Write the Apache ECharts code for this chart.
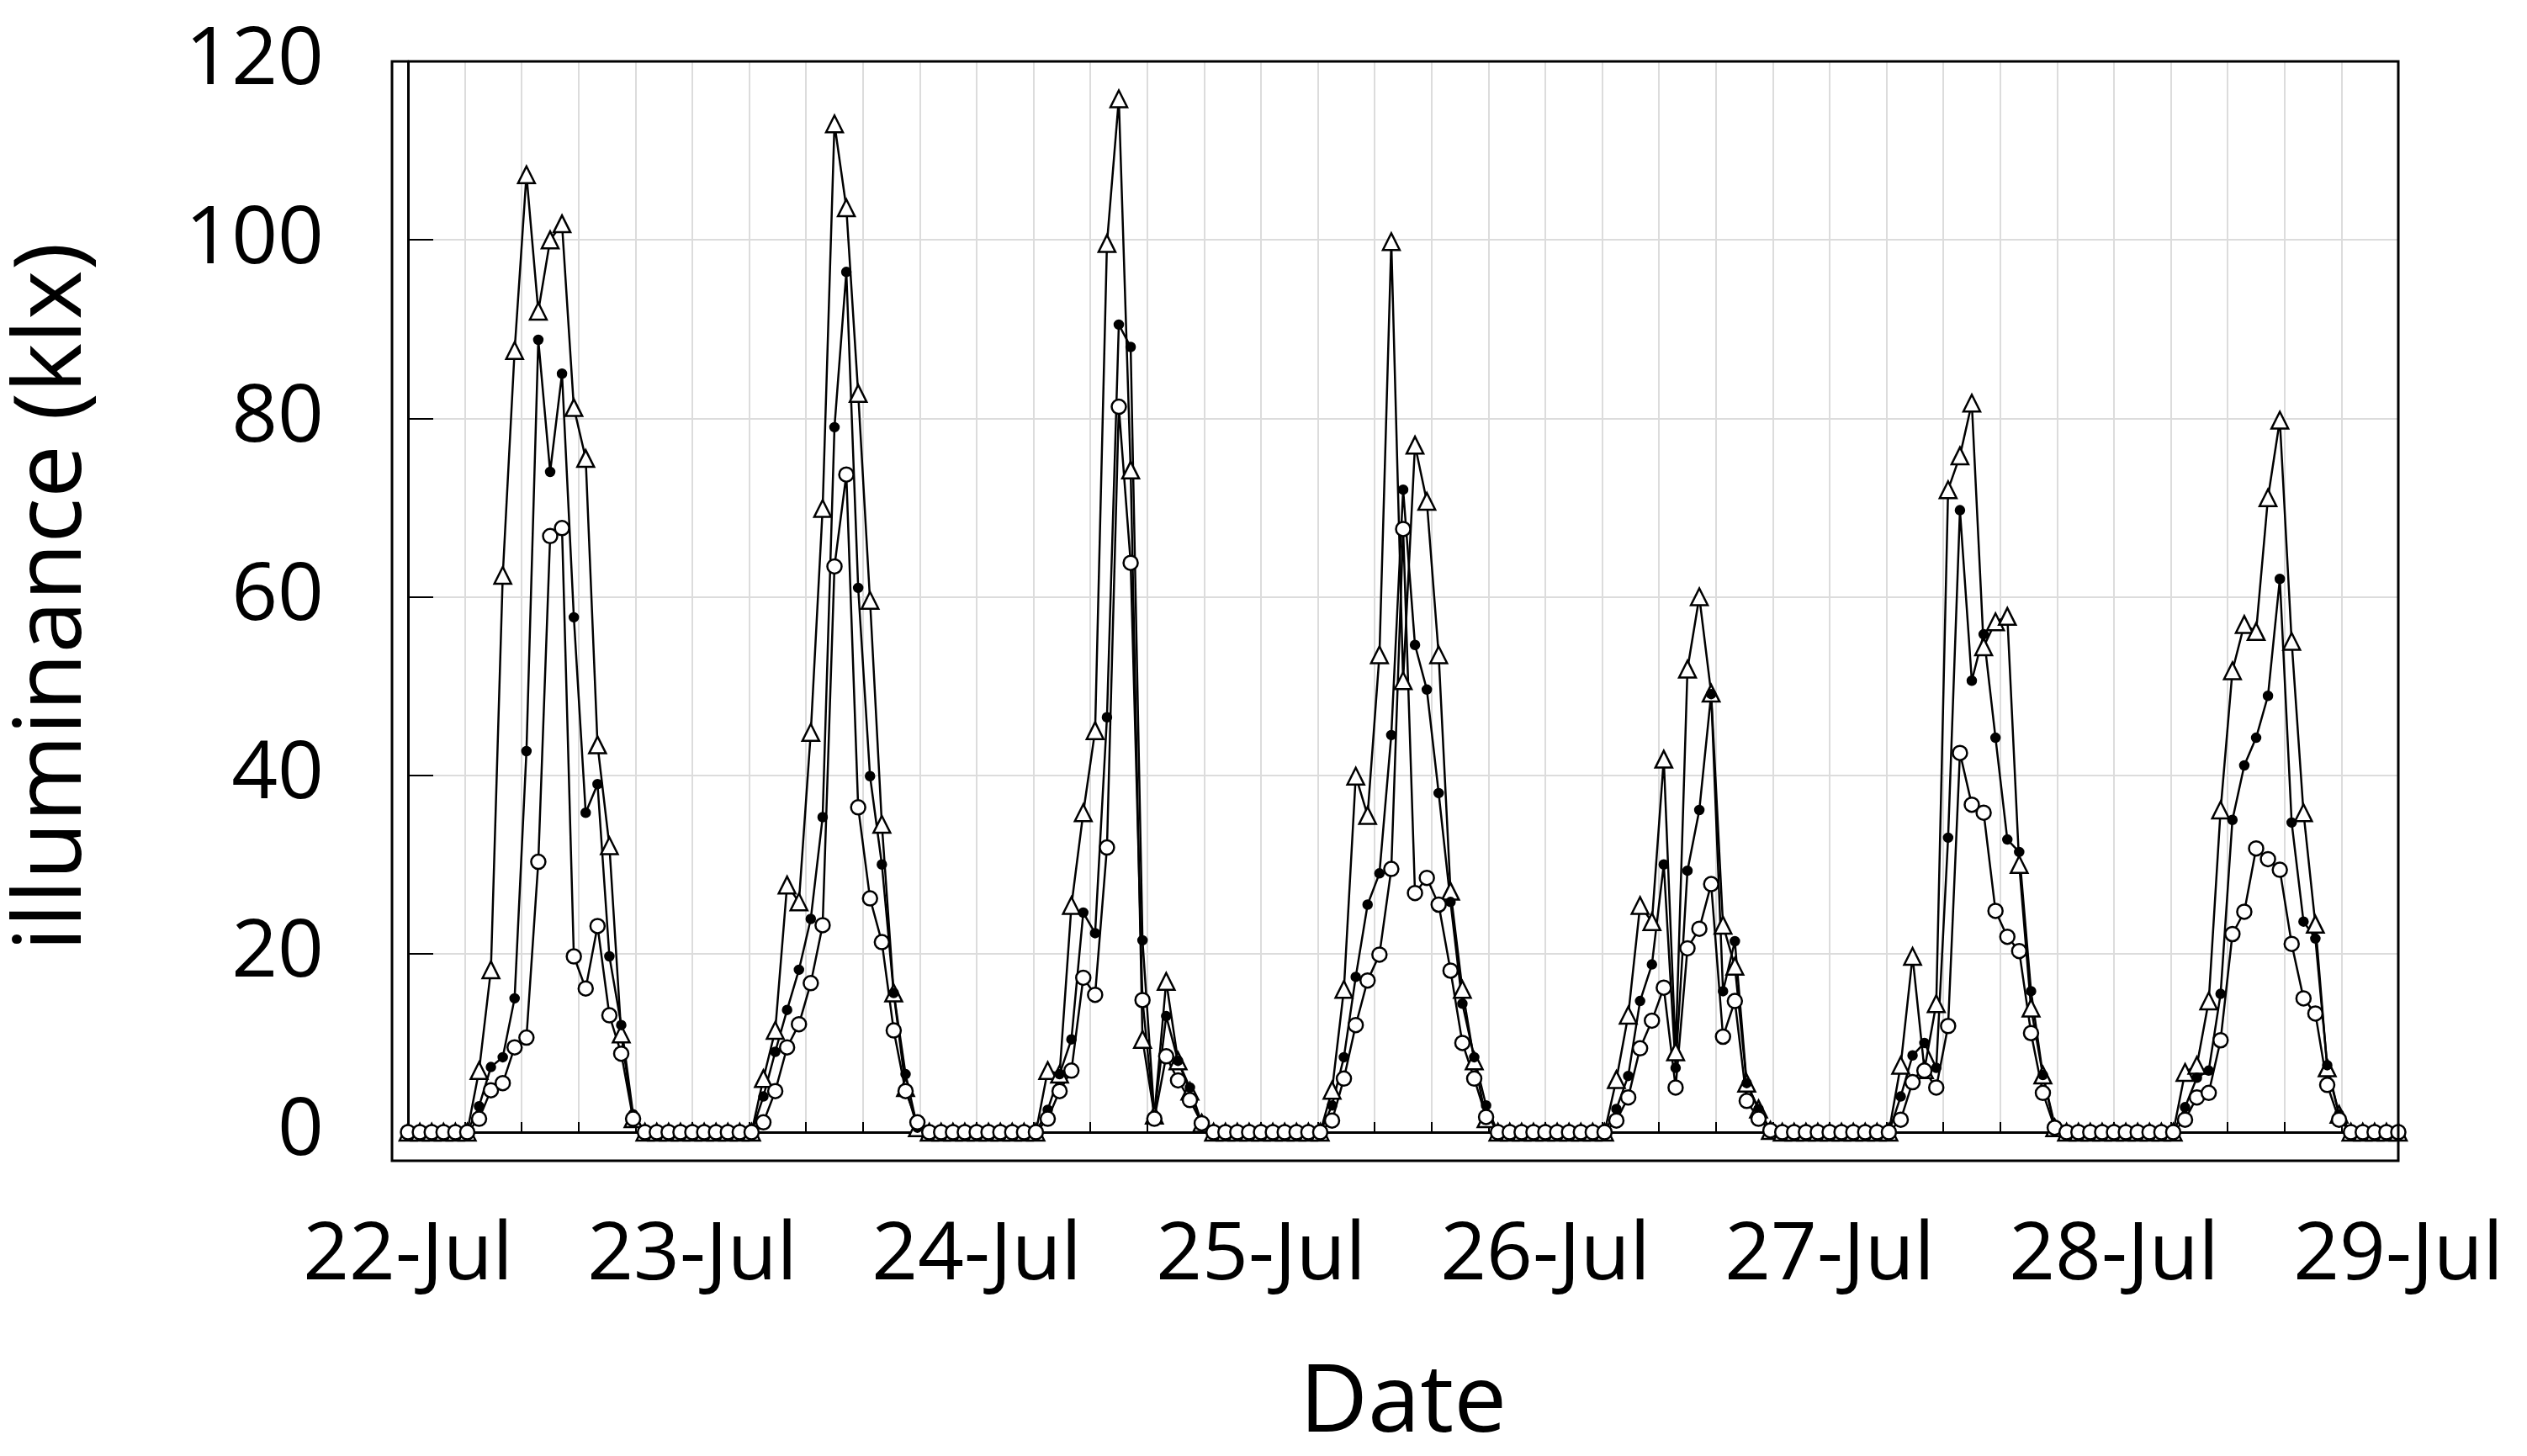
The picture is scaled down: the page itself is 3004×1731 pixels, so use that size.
<!DOCTYPE html>
<html><head><meta charset="utf-8">
<script src="https://cdn.jsdelivr.net/npm/echarts@6/dist/echarts.min.js"></script>
<style>html,body{margin:0;padding:0;background:#fff}#c{width:3004px;height:1731px}</style>
</head><body><div id="c"></div>
<script>
// Daylight-hour values (hours 6..19) for each day; other hours are 0
const dayLabels = ['22-Jul','23-Jul','24-Jul','25-Jul','26-Jul','27-Jul','28-Jul','29-Jul'];
const triDays = [
 [6.9,18.2,62.4,87.6,107.3,92,100,101.8,81.2,75.5,43.4,32.1,11,1.5],
 [6,11.4,27.7,25.8,44.8,69.9,113,103.6,82.8,59.6,34.5,15.6,5,0.5],
 [6.9,6.5,25.4,35.8,45,99.6,115.8,74.2,10.4,1.9,16.9,8,4.6,1],
 [4.7,16,39.9,35.5,53.5,99.8,50.6,77,70.7,53.5,27,16,8,1.5],
 [5.9,13.1,25.4,23.6,41.8,9,51.9,60,49.2,23.2,18.6,5.5,2.6,0.2],
 [7.5,19.7,7,14.4,72,75.8,81.7,54.4,57.2,57.8,30,13.9,6.4,0.5],
 [6.7,7.5,14.7,36.1,51.7,56.9,56.1,71.1,79.8,55,35.8,23.3,7.2,2]
];
const dotDays = [
 [2.9,7.3,8.4,15,42.7,88.8,74,85,57.7,35.8,39,19.7,12,2],
 [4,9,13.7,18.2,23.9,35.3,79,96.4,61,39.9,30,15.6,6.5,0.5],
 [2.5,6.5,10.4,24.6,22.3,46.5,90.5,88,21.5,1.9,13,8,5,1],
 [3,8.4,17.4,25.5,29,44.5,72,54.6,49.6,38,25.8,14.4,8.4,3],
 [2.6,6.3,14.7,18.8,30,7.2,29.3,36.1,49.1,15.8,21.4,5.5,2.6,0.2],
 [4,8.6,10,7.2,33,69.7,50.6,55.8,44.2,32.8,31.4,15.8,6.4,0.8],
 [2.8,6.1,6.9,15.5,35,41.1,44.2,48.9,62,34.7,23.6,21.7,7.5,2]
];
const circDays = [
 [1.5,4.7,5.5,9.5,10.6,30.3,66.8,67.7,19.7,16.1,23.1,13.1,8.8,1.5],
 [1.1,4.6,9.5,12.1,16.7,23.2,63.4,73.7,36.4,26.2,21.3,11.4,4.6,1.1],
 [1.5,4.6,6.9,17.3,15.4,31.9,81.3,63.8,14.8,1.5,8.5,5.8,3.6,1],
 [1.3,6,12,17,19.9,29.5,67.6,26.8,28.5,25.5,18.1,10,6,1.7],
 [1.3,3.9,9.4,12.5,16.2,5,20.6,22.8,27.8,10.7,14.7,3.5,1.5,0.2],
 [1.4,5.6,6.9,5,11.9,42.5,36.7,35.8,24.8,21.9,20.3,11.1,4.4,0.5],
 [1.4,3.9,4.4,10.3,22.2,24.7,31.8,30.6,29.4,21.1,15,13.3,5.3,1.4]
];
const FIRST_HOUR = 6;
function build(days){
  const out=[];
  days.forEach((d,di)=>{
    for(let h=0;h<24;h++){
      const k=h-FIRST_HOUR;
      const v=(k>=0&&k<d.length)?d[k]:0;
      out.push([di+h/24,v]);
    }
  });
  out.push([days.length,0]);
  return out;
}
const font='"Open Sans", "Liberation Sans", sans-serif';
const ch=echarts.init(document.getElementById('c'));
const line=(name,data,sym,size,fill)=>({
  name,type:'line',data,symbol:sym,symbolSize:size,showSymbol:true,
  lineStyle:{color:'#000',width:2.5},
  itemStyle:{color:fill,borderColor:'#000',borderWidth:2.5},
  animation:false
});
ch.setOption({
  animation:false,
  grid:{left:466,right:153,top:73,bottom:351},
  xAxis:{type:'value',min:0,max:7,interval:0.2,
    name:'Date',nameLocation:'middle',nameGap:268,
    nameTextStyle:{fontFamily:font,fontSize:112,color:'#000'},
    axisLine:{lineStyle:{color:'#000',width:3}},
    axisTick:{inside:true,length:12,lineStyle:{color:'#000',width:2}},
    axisLabel:{fontFamily:font,fontSize:96,color:'#000',margin:100,
      formatter:v=>{const r=Math.round(v);return Math.abs(v-r)<1e-6?dayLabels[r]:'';}},
    splitLine:{show:true,lineStyle:{color:'#dcdcdc',width:2}}
  },
  yAxis:{type:'value',min:0,max:120,interval:20,
    name:'illuminance (klx)',nameLocation:'middle',nameGap:365,
    nameTextStyle:{fontFamily:font,fontSize:112,color:'#000'},
    axisLine:{show:true,lineStyle:{color:'#000',width:3}},
    axisTick:{inside:true,length:30,lineStyle:{color:'#000',width:2}},
    axisLabel:{fontFamily:font,fontSize:96,color:'#000',margin:100},
    splitLine:{show:true,lineStyle:{color:'#dcdcdc',width:2}}
  },
  series:[
    line('tri',build(triDays),'triangle',20,'#fff'),
    line('dot',build(dotDays),'circle',10,'#000'),
    line('circ',build(circDays),'circle',17,'#fff')
  ],
  graphic:[{type:'rect',shape:{x:466,y:73,width:3004-153-466,height:1731-351-73},
    style:{fill:'none',stroke:'#000',lineWidth:3},z:100}]
});
</script></body></html>
